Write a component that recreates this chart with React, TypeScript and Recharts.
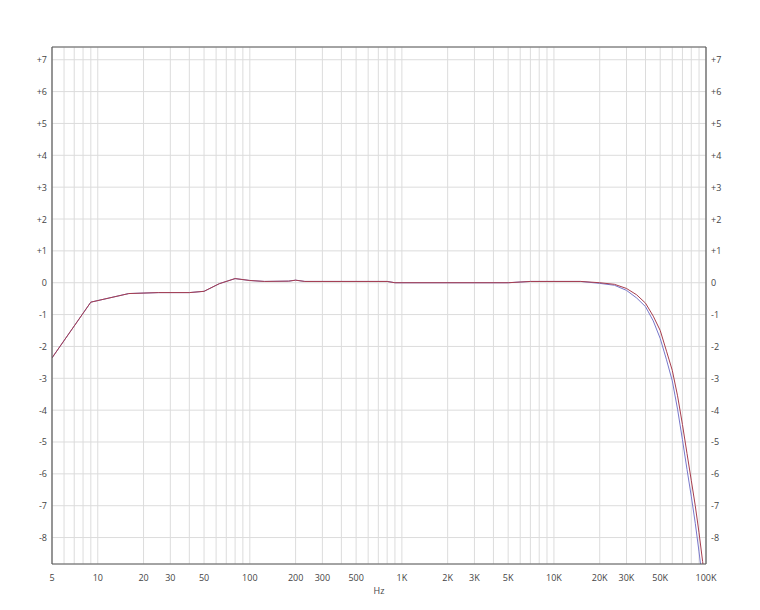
import React from 'react';
import { LineChart, Line, XAxis, YAxis, CartesianGrid, ReferenceLine } from 'recharts';

// Frequency points (Hz)
const FREQS = [5, 9, 16, 25, 40, 50, 63, 80, 100, 125, 180, 200, 230, 800, 900, 5000, 7000, 15000, 20000, 25000, 30000, 35000, 40000, 45000, 50000, 55000, 60000, 65000, 70000, 75000, 80000, 85000, 90000, 95000, 100000];
// Channel 1 (red) dB
const RED_DB = [-2.36, -0.61, -0.34, -0.31, -0.31, -0.27, -0.03, 0.13, 0.07, 0.04, 0.05, 0.08, 0.04, 0.04, 0.0, 0.0, 0.04, 0.04, 0.0, -0.05, -0.18, -0.38, -0.64, -1.05, -1.5, -2.15, -2.75, -3.55, -4.45, -5.36, -6.2, -7.0, -7.85, -8.75, -9.6];
// Channel 2 (blue) dB
const BLUE_DB = [-2.36, -0.61, -0.34, -0.31, -0.31, -0.27, -0.03, 0.13, 0.07, 0.04, 0.05, 0.08, 0.04, 0.04, 0.0, 0.0, 0.04, 0.04, -0.02, -0.08, -0.24, -0.48, -0.75, -1.2, -1.75, -2.42, -3.08, -3.97, -4.93, -5.86, -6.7, -7.55, -8.45, -9.37, -10.2];

const X_GRID_TICKS = [
  5, 6, 7, 8, 9,
  10, 20, 30, 40, 50, 60, 70, 80, 90,
  100, 200, 300, 400, 500, 600, 700, 800, 900,
  1000, 2000, 3000, 4000, 5000, 6000, 7000, 8000, 9000,
  10000, 20000, 30000, 40000, 50000, 60000, 70000, 80000, 90000,
  100000,
];
const X_LABEL_VALUES = [5, 10, 20, 30, 50, 100, 200, 300, 500, 1000, 2000, 3000, 5000, 10000, 20000, 30000, 50000, 100000];
const X_LABEL_TEXTS = ['5', '10', '20', '30', '50', '100', '200', '300', '500', '1K', '2K', '3K', '5K', '10K', '20K', '30K', '50K', '100K'];
const Y_TICKS = [-8, -7, -6, -5, -4, -3, -2, -1, 0, 1, 2, 3, 4, 5, 6, 7];
const X_TITLE = 'Hz';

const Y_MIN = -8.83;
const Y_MAX = 7.4;

const data = FREQS.map((f, i) => ({ f, red: RED_DB[i], blue: BLUE_DB[i] }));

const FONT = '"Open Sans", "Noto Sans", sans-serif';
const TEXT_COLOR = '#444';
const FRAME = '#5a5a5a';

const fmtY = (v: number) => (v > 0 ? `+${v}` : `${v}`);

const XTick = (props: any) => {
  const { x, y, payload } = props;
  const idx = X_LABEL_VALUES.indexOf(payload.value);
  if (idx < 0) return null;
  return (
    <text x={x} y={y + 13} textAnchor="middle" dominantBaseline="central" fontSize={9} fontFamily={FONT} fill={TEXT_COLOR}>
      {X_LABEL_TEXTS[idx]}
    </text>
  );
};

const LeftTick = (props: any) => {
  const { x, y, payload } = props;
  return (
    <text x={x - 5} y={y} textAnchor="end" dominantBaseline="central" fontSize={9} fontFamily={FONT} fill={TEXT_COLOR}>
      {fmtY(payload.value)}
    </text>
  );
};

const RightTick = (props: any) => {
  const { x, y, payload } = props;
  return (
    <text x={x + 5} y={y} textAnchor="start" dominantBaseline="central" fontSize={9} fontFamily={FONT} fill={TEXT_COLOR}>
      {fmtY(payload.value)}
    </text>
  );
};

const XTitle = (props: any) => {
  const vb = props.viewBox || {};
  const cx = (vb.x || 0) + (vb.width || 0) / 2;
  const cy = (vb.y || 0) + 26;
  return (
    <text x={cx} y={cy} textAnchor="middle" dominantBaseline="central" fontSize={9} fontFamily={FONT} fill={TEXT_COLOR} stroke="none">
      {X_TITLE}
    </text>
  );
};

export default function App() {
  return (
    <div style={{ width: 744, height: 594, background: '#fff' }}>
      <LineChart width={744} height={594} data={data} margin={{ top: 39, right: 0, bottom: 0, left: 0 }}>
        <CartesianGrid yAxisId="left" stroke="#dcdcdc" strokeWidth={1} />
        <XAxis
          dataKey="f"
          type="number"
          scale="log"
          domain={[5, 100000]}
          allowDataOverflow
          ticks={X_GRID_TICKS}
          interval={0}
          tick={<XTick />}
          tickLine={false}
          tickSize={0}
          tickMargin={0}
          height={38}
          axisLine={{ stroke: FRAME, strokeWidth: 1.2 }}
          label={<XTitle />}
        />
        <YAxis
          yAxisId="left"
          type="number"
          domain={[Y_MIN, Y_MAX]}
          allowDataOverflow
          ticks={Y_TICKS}
          interval={0}
          width={44}
          tick={<LeftTick />}
          tickLine={false}
          tickSize={0}
          tickMargin={0}
          axisLine={{ stroke: FRAME, strokeWidth: 1.2 }}
        />
        <YAxis
          yAxisId="right"
          orientation="right"
          type="number"
          domain={[Y_MIN, Y_MAX]}
          allowDataOverflow
          ticks={Y_TICKS}
          interval={0}
          width={46}
          tick={<RightTick />}
          tickLine={false}
          tickSize={0}
          tickMargin={0}
          axisLine={{ stroke: FRAME, strokeWidth: 1.2 }}
        />
        <ReferenceLine yAxisId="left" y={Y_MAX} stroke={FRAME} strokeWidth={1.2} ifOverflow="extendDomain" />
        <Line yAxisId="left" type="linear" dataKey="blue" stroke="#7878cc" strokeWidth={1} dot={false} isAnimationActive={false} />
        <Line yAxisId="left" type="linear" dataKey="red" stroke="#a83e4e" strokeWidth={1} dot={false} isAnimationActive={false} />
      </LineChart>
    </div>
  );
}
